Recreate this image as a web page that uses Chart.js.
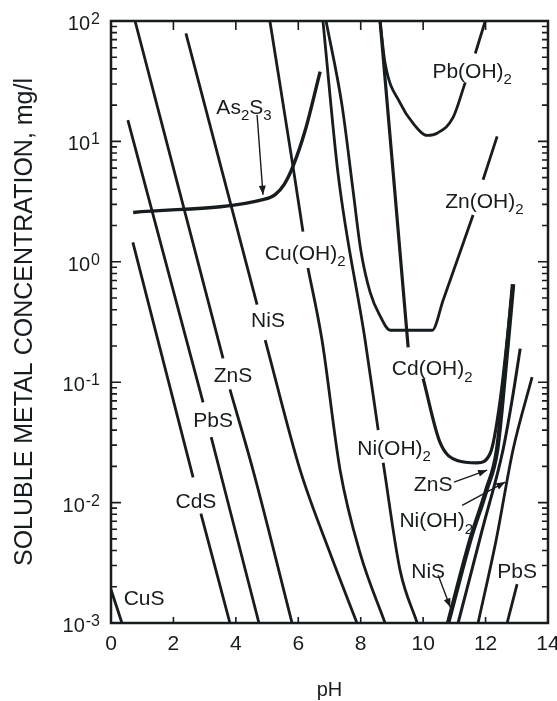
<!DOCTYPE html>
<html>
<head>
<meta charset="utf-8">
<title>Solubility of metal hydroxides and sulfides vs pH</title>
<script src="https://cdn.jsdelivr.net/npm/chart.js"></script>
<style>
    html, body { margin: 0; padding: 0; background: #fff; }
    #wrap { width: 557px; height: 701px; }
</style>
</head>
<body>
<div id="wrap"><canvas id="chart" width="557" height="701"></canvas></div>
<script>
// pH and soluble metal concentration (mg/l).
// a null splits a curve where its label sits on it
var cusPH = [0, 0.35];
var cusC  = [0.0019, 0.001];

var cdsPH = [0.7, 2.63, 2.76, 2.88, 3.81];
var cdsC  = [1.45, 0.0162, null, 0.0081, 0.001];

var pbsPH = [0.54, 2.95, 3.08, 3.21, 4.74];
var pbsC  = [15, 0.068, null, 0.035, 0.001];

var znsPH = [0.77, 3.59, 3.7, 3.81, 4.55, 5.8];
var znsC  = [100, 0.158, null, 0.087, 0.0186, 0.001];

var nisPH = [2.4, 4.68, 4.81, 4.94, 6.06, 7.02, 7.88];
var nisC  = [79, 0.44, null, 0.224, 0.0186, 0.0038, 0.001];

var cuohPH = [5.09, 5.83, 6.15, 6.23, 6.31, 6.76, 7.34, 7.98, 8.78];
var cuohC  = [100, 6.2, 1.78, null, 0.89, 0.224, 0.0186, 0.0038, 0.001];

var niohPH = [6.79, 7.28, 8.14, 8.56, 8.64, 8.72, 9.26, 9.81];
var niohC  = [100, 5.25, 0.224, 0.04, null, 0.0214, 0.00275, 0.001];

var znohPH = [6.89, 7.4, 7.75, 8.0, 8.3, 8.62, 8.94, 10.29, 10.64, 11.6, 11.76, 11.92, 12.37];
var znohC  = [100, 20, 4.0, 1.26, 0.56, 0.355, 0.27, 0.27, 0.48, 2.45, null, 4.8, 11];

var cdohPH = [8.62, 9.06, 9.52, 9.76, 10.0, 10.54, 11.09, 11.73, 12.15, 12.47, 12.88];
var cdohC  = [100, 4.8, 0.195, null, 0.107, 0.0316, 0.0224, 0.0214, 0.0257, 0.071, 0.65];

var pbohPH = [8.62, 8.78, 9.26, 9.68, 10.13, 10.45, 10.96, 11.35, 11.51, 11.67, 11.99];
var pbohC  = [100, 44.7, 20.9, 14.1, 11.2, 11.7, 15.8, 30.9, null, 53.7, 100];

var as2s3PH = [0.71, 4.9, 5.25, 5.55, 5.83, 6.22, 6.7];
var as2s3C  = [2.57, 3.3, 3.6, 4.4, 6.2, 12.3, 38];

// rising branches at high pH
var nisHiPH = [10.8, 11.51, 12.02, 12.37, 12.63, 12.88];
var nisHiC  = [0.001, 0.0049, 0.0126, 0.0275, 0.126, 0.65];

var znsHiPH = [11.12, 11.89, 12.56, 12.85, 13.11];
var znsHiC  = [0.001, 0.0059, 0.0275, 0.071, 0.19];

var niohHiPH = [11.76, 12.34, 12.88, 13.49];
var niohHiC  = [0.001, 0.0049, 0.0275, 0.11];

var pbsHiPH = [12.69, 13.01];
var pbsHiC  = [0.001, 0.0021];

// axis ticks
var xTicks = [0, 2, 4, 6, 8, 10, 12, 14];
var yExps  = [2, 1, 0, -1, -2, -3];

// curve labels ("_" marks a subscript character)
var labelText = ['As_2S_3', 'Cu(OH)_2', 'NiS', 'ZnS', 'PbS', 'CdS', 'CuS', 'Pb(OH)_2', 'Zn(OH)_2',
                 'Cd(OH)_2', 'Ni(OH)_2', 'ZnS', 'Ni(OH)_2', 'NiS', 'PbS'];
var labelPH   = [4.26, 6.22, 5.03, 3.91, 3.27, 2.72, 1.06, 11.57, 11.96, 10.29, 9.07, 10.32, 10.42, 10.16, 13.01];
var labelC    = [19.5, 1.2, 0.33, 0.115, 0.049, 0.0105, 0.00162, 39, 3.24, 0.132, 0.0288, 0.0145, 0.0072, 0.00275, 0.00275];

// leader arrows for some labels
var arrowFromPH = [4.68, 10.99, 11.25, 10.48];
var arrowFromC  = [16.6, 0.0148, 0.0095, 0.0025];
var arrowToPH   = [4.87, 12.05, 12.63, 10.87];
var arrowToC    = [3.6, 0.0186, 0.0148, 0.00135];

var INK = '#171c1f';
var FONT = '"Liberation Sans", Arial, sans-serif';

function pts(ph, c) {
    return ph.map(function(x, i) { return {x: x, y: c[i]}; });
}

function curve(label, ph, c, width) {
    return {
        label: label,
        data: pts(ph, c),
        borderColor: INK,
        borderWidth: width || 2.8,
        pointRadius: 0,
        fill: false,
        spanGaps: false,
        cubicInterpolationMode: 'monotone'
    };
}

// text with subscripts, centred on (cx, cy)
function drawRich(ctx, str, cx, cy, size) {
    var runs = [];
    for (var i = 0; i < str.length; i++) {
        if (str[i] === '_') { runs.push({t: str[i + 1], sub: true}); i++; }
        else runs.push({t: str[i], sub: false});
    }
    var subSize = Math.round(size * 0.72);
    var w = 0;
    runs.forEach(function(r) {
        ctx.font = (r.sub ? subSize : size) + 'px ' + FONT;
        r.w = ctx.measureText(r.t).width;
        w += r.w;
    });
    var x = cx - w / 2;
    var base = cy + size * 0.36;
    ctx.textAlign = 'left';
    ctx.textBaseline = 'alphabetic';
    runs.forEach(function(r) {
        ctx.font = (r.sub ? subSize : size) + 'px ' + FONT;
        ctx.fillText(r.t, x, r.sub ? base + size * 0.3 : base);
        x += r.w;
    });
}

function arrow(ctx, x1, y1, x2, y2) {
    ctx.beginPath();
    ctx.moveTo(x1, y1);
    ctx.lineTo(x2, y2);
    ctx.stroke();
    var ang = Math.atan2(y2 - y1, x2 - x1);
    var len = 9, half = 3.5;
    ctx.beginPath();
    ctx.moveTo(x2, y2);
    ctx.lineTo(x2 - len * Math.cos(ang) + half * Math.sin(ang), y2 - len * Math.sin(ang) - half * Math.cos(ang));
    ctx.lineTo(x2 - len * Math.cos(ang) - half * Math.sin(ang), y2 - len * Math.sin(ang) + half * Math.cos(ang));
    ctx.closePath();
    ctx.fill();
}

var decorations = {
    id: 'decorations',
    afterDraw: function(chart) {
        var ctx = chart.ctx, a = chart.chartArea;
        var xs = chart.scales.x, ys = chart.scales.y;
        ctx.save();
        ctx.strokeStyle = INK;
        ctx.fillStyle = INK;

        // frame
        ctx.lineWidth = 2.5;
        ctx.strokeRect(a.left, a.top, a.right - a.left, a.bottom - a.top);

        // y ticks, pointing inward on both sides
        ctx.lineWidth = 1.6;
        ctx.beginPath();
        for (var e = -3; e <= 2; e++) {
            for (var m = 1; m <= 9; m++) {
                var v = m * Math.pow(10, e);
                if (v > 100) break;
                var y = ys.getPixelForValue(v);
                var len = m === 1 ? 10 : 6;
                ctx.moveTo(a.left, y); ctx.lineTo(a.left + len, y);
                ctx.moveTo(a.right, y); ctx.lineTo(a.right - len, y);
            }
        }
        // x ticks, top and bottom
        xTicks.forEach(function(t) {
            if (t === 0 || t === 14) return;
            var x = xs.getPixelForValue(t);
            ctx.moveTo(x, a.top); ctx.lineTo(x, a.top + 9);
            ctx.moveTo(x, a.bottom); ctx.lineTo(x, a.bottom - 6);
        });
        ctx.stroke();

        // y tick labels 10^n
        yExps.forEach(function(n) {
            var y = ys.getPixelForValue(Math.pow(10, n));
            ctx.font = '16px ' + FONT;
            var ew = ctx.measureText(String(n)).width;
            ctx.font = '20px ' + FONT;
            var bw = ctx.measureText('10').width;
            var right = a.left - 11;
            ctx.textAlign = 'left';
            ctx.textBaseline = 'alphabetic';
            ctx.fillText('10', right - ew - bw - 1, y + 9);
            ctx.font = '16px ' + FONT;
            ctx.fillText(String(n), right - ew, y + 3);
        });

        // x tick labels
        ctx.font = '21px ' + FONT;
        ctx.textAlign = 'center';
        ctx.textBaseline = 'middle';
        xTicks.forEach(function(t) {
            ctx.fillText(String(t), xs.getPixelForValue(t), a.bottom + 21);
        });

        // axis titles
        ctx.font = '20px ' + FONT;
        ctx.fillText('pH', (a.left + a.right) / 2, a.bottom + 67);
        ctx.save();
        ctx.translate(25, 322);
        ctx.rotate(-Math.PI / 2);
        ctx.font = '25px ' + FONT;
        ctx.fillText('SOLUBLE METAL CONCENTRATION, mg/l', 0, 0);
        ctx.restore();

        // curve labels
        labelText.forEach(function(s, i) {
            drawRich(ctx, s, xs.getPixelForValue(labelPH[i]), ys.getPixelForValue(labelC[i]), 21);
        });

        // leader arrows
        ctx.lineWidth = 1.4;
        arrowFromPH.forEach(function(p, i) {
            arrow(ctx, xs.getPixelForValue(p), ys.getPixelForValue(arrowFromC[i]),
                  xs.getPixelForValue(arrowToPH[i]), ys.getPixelForValue(arrowToC[i]));
        });
        ctx.restore();
    }
};

new Chart(document.getElementById('chart'), {
    type: 'line',
    data: {
        datasets: [
            curve('CuS', cusPH, cusC),
            curve('CdS', cdsPH, cdsC),
            curve('PbS', pbsPH, pbsC),
            curve('ZnS', znsPH, znsC),
            curve('NiS', nisPH, nisC),
            curve('Cu(OH)2', cuohPH, cuohC),
            curve('Ni(OH)2', niohPH, niohC),
            curve('Zn(OH)2', znohPH, znohC),
            curve('Cd(OH)2', cdohPH, cdohC, 3.2),
            curve('Pb(OH)2', pbohPH, pbohC),
            curve('As2S3', as2s3PH, as2s3C, 3.4),
            curve('NiS (high pH)', nisHiPH, nisHiC, 4.5),
            curve('ZnS (high pH)', znsHiPH, znsHiC, 3),
            curve('Ni(OH)2 (high pH)', niohHiPH, niohHiC),
            curve('PbS (high pH)', pbsHiPH, pbsHiC)
        ]
    },
    options: {
        responsive: false,
        animation: false,
        devicePixelRatio: 1,
        layout: { padding: { left: 111, top: 21, right: 9, bottom: 78 } },
        scales: {
            x: { type: 'linear', min: 0, max: 14, display: false },
            y: { type: 'logarithmic', min: 0.001, max: 100, display: false }
        },
        plugins: {
            legend: { display: false },
            tooltip: { enabled: false }
        }
    },
    plugins: [decorations]
});
</script>
</body>
</html>
